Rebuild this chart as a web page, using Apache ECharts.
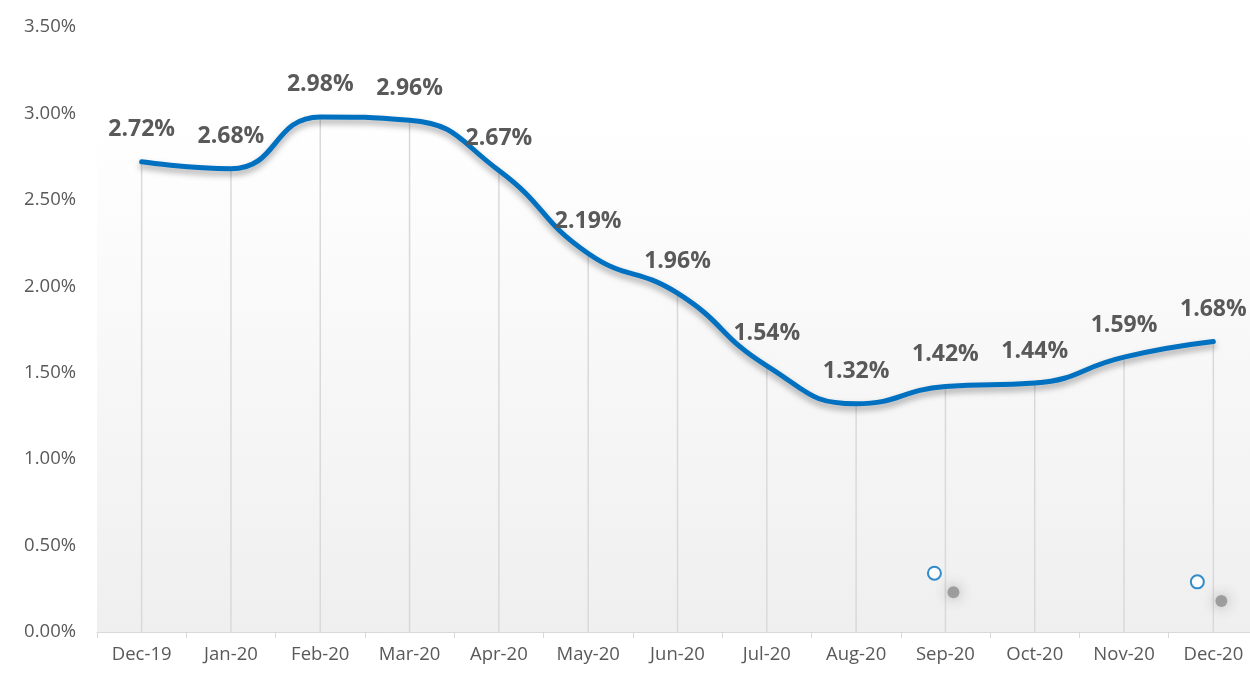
<!DOCTYPE html>
<html>
<head>
<meta charset="utf-8">
<script src="https://cdn.jsdelivr.net/npm/echarts@6/dist/echarts.min.js"></script>
<style>
  html, body { margin: 0; padding: 0; background: #ffffff; }
  #chart { width: 1250px; height: 673px; }
</style>
</head>
<body>
<div id="chart"></div>
<script>
// 月份与比率数据
const months = ['Dec-19', 'Jan-20', 'Feb-20', 'Mar-20', 'Apr-20', 'May-20', 'Jun-20',
  'Jul-20', 'Aug-20', 'Sep-20', 'Oct-20', 'Nov-20', 'Dec-20'];
const rates = [2.72, 2.68, 2.98, 2.96, 2.67, 2.19, 1.96, 1.54, 1.32, 1.42, 1.44, 1.59, 1.68];
const yTicks = ['0.00%', '0.50%', '1.00%', '1.50%', '2.00%', '2.50%', '3.00%', '3.50%'];

// 图中零散的小圆圈及其阴影点
const strayMonths = ['Sep-20', 'Dec-20'];
const strayCircles = [0.34, 0.29];
const strayShadows = [0.23, 0.18];

document.addEventListener('DOMContentLoaded', function() {
  const chart = echarts.init(document.getElementById('chart'));
  const font = '"Open Sans", "Noto Sans", sans-serif';

  const option = {
    animation: false,
    grid: {
      left: 97, top: 27, width: 1161, height: 605,
      outerBoundsMode: 'none',
      show: true, borderWidth: 0,
      backgroundColor: new echarts.graphic.LinearGradient(0, 0, 0, 1, [
        { offset: 0, color: '#ffffff' },
        { offset: 0.15, color: '#ffffff' },
        { offset: 1, color: '#efefef' }
      ])
    },
    xAxis: {
      type: 'category',
      data: months,
      boundaryGap: true,
      axisLine: { lineStyle: { color: '#d9d9d9', width: 1 } },
      axisTick: { show: true, length: 6, lineStyle: { color: '#d9d9d9' } },
      axisLabel: { color: '#595959', fontSize: 18.5, fontFamily: font, margin: 13 },
      splitLine: { show: false }
    },
    yAxis: {
      type: 'value',
      min: 0, max: 3.5, interval: 0.5,
      axisLine: { show: false },
      axisTick: { show: false },
      splitLine: { show: false },
      axisLabel: {
        color: '#595959', fontSize: 18.5, fontFamily: font, margin: 21,
        formatter: function(v) { return yTicks[Math.round(v / 0.5)]; }
      }
    },
    series: [
      {
        // 竖直引线
        type: 'bar',
        data: rates,
        barWidth: 1.5,
        itemStyle: { color: '#d9d9d9' },
        silent: true,
        z: 1
      },
      {
        type: 'line',
        data: rates,
        smooth: 0.5,
        symbol: 'circle',
        symbolSize: 1,
        showSymbol: true,
        itemStyle: { color: 'rgba(0,0,0,0)' },
        lineStyle: {
          color: '#0070c0', width: 5, cap: 'round',
          shadowColor: 'rgba(0,0,0,0.35)', shadowBlur: 6, shadowOffsetY: 4
        },
        label: {
          show: true, position: 'top', distance: 20,
          color: '#595959', fontSize: 23, fontWeight: 'bold', fontFamily: font,
          formatter: function(p) { return p.value.toFixed(2) + '%'; }
        },
        labelLayout: { hideOverlap: false },
        z: 3
      },
      {
        type: 'scatter',
        data: strayMonths.map(function(m, i) {
          return { value: [m, strayShadows[i]], symbolOffset: [8, 0] };
        }),
        symbol: 'circle',
        symbolSize: 12,
        itemStyle: {
          color: 'rgba(90,90,90,0.6)',
          shadowColor: 'rgba(60,60,60,0.9)', shadowBlur: 14
        },
        silent: true,
        z: 2
      },
      {
        type: 'scatter',
        data: strayMonths.map(function(m, i) {
          return { value: [m, strayCircles[i]], symbolOffset: [i === 0 ? -11 : -16, 0] };
        }),
        symbol: 'emptyCircle',
        symbolSize: 13,
        itemStyle: { color: '#0070c0', borderColor: '#0070c0', borderWidth: 2 },
        silent: true,
        z: 3
      }
    ]
  };

  chart.setOption(option);
});
</script>
</body>
</html>
